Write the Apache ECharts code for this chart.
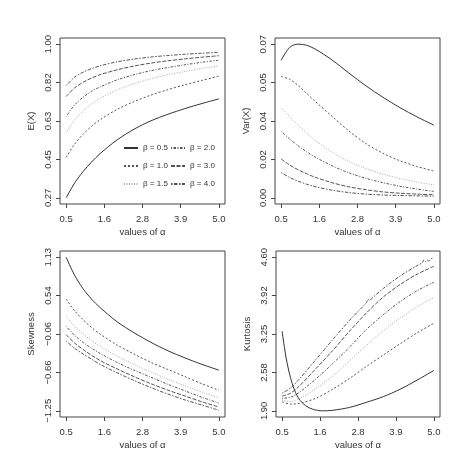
<!DOCTYPE html>
<html>
<head>
<meta charset="utf-8">
<title>moments</title>
<style>
  html, body { margin: 0; padding: 0; background: #fff; }
  #main { width: 452px; height: 451px; }
</style>
</head>
<body>
<div id="main"></div>
<script src="https://cdn.jsdelivr.net/npm/echarts@6/dist/echarts.min.js"></script>
<script>
// tick positions / labels (R style: 5 equally spaced ticks)
var xTicks = [0.5, 1.625, 2.75, 3.875, 5.0];
var xLabels = ['0.5', '1.6', '2.8', '3.9', '5.0'];
var eTicks = [0.27, 0.4525, 0.635, 0.8175, 1.00];
var eLabels = ['0.27', '0.45', '0.63', '0.82', '1.00'];
var vTicks = [0, 0.0175, 0.035, 0.0525, 0.07];
var vLabels = ['0.00', '0.02', '0.04', '0.05', '0.07'];
var sTicks = [-1.25, -0.655, -0.06, 0.535, 1.13];
var sLabels = ['\u22121.25', '\u22120.66', '\u22120.06', '0.54', '1.13'];
var kTicks = [1.90, 2.575, 3.25, 3.925, 4.60];
var kLabels = ['1.90', '2.58', '3.25', '3.92', '4.60'];

var betas = ['β = 0.5', 'β = 1.0', 'β = 1.5', 'β = 2.0', 'β = 3.0', 'β = 4.0'];

// values of alpha
var alphaG = [0.5, 0.75, 1.0, 1.25, 1.5, 2.0, 2.5, 3.0, 3.5, 4.0, 4.5, 5.0];

// E(X)
var meanB05 = [0.270, 0.340, 0.395, 0.440, 0.480, 0.545, 0.596, 0.636, 0.667, 0.694, 0.718, 0.740];
var meanB10 = [0.462, 0.525, 0.572, 0.610, 0.641, 0.690, 0.727, 0.758, 0.784, 0.807, 0.828, 0.848];
var meanB15 = [0.579, 0.640, 0.683, 0.716, 0.742, 0.782, 0.812, 0.836, 0.855, 0.870, 0.884, 0.897];
var meanB20 = [0.656, 0.711, 0.748, 0.776, 0.797, 0.830, 0.855, 0.874, 0.889, 0.902, 0.914, 0.924];
var meanB30 = [0.751, 0.792, 0.819, 0.839, 0.855, 0.878, 0.896, 0.910, 0.921, 0.930, 0.938, 0.945];
var meanB40 = [0.803, 0.843, 0.867, 0.884, 0.897, 0.916, 0.929, 0.939, 0.946, 0.952, 0.957, 0.961];

// Var(X)
var varB05 = [0.0626, 0.0685, 0.0700, 0.0695, 0.0678, 0.0628, 0.0568, 0.0510, 0.0458, 0.0411, 0.0369, 0.0331];
var varB10 = [0.0553, 0.0540, 0.0512, 0.0476, 0.0440, 0.0371, 0.0304, 0.0247, 0.0203, 0.0169, 0.0143, 0.0122];
var varB15 = [0.0410, 0.0370, 0.0330, 0.0295, 0.0262, 0.0208, 0.0165, 0.0133, 0.0108, 0.0088, 0.0072, 0.0059];
var varB20 = [0.0304, 0.0268, 0.0237, 0.0210, 0.0186, 0.0146, 0.0114, 0.0089, 0.0069, 0.0053, 0.0040, 0.0029];
var varB30 = [0.0177, 0.0150, 0.0128, 0.0110, 0.0094, 0.0069, 0.0050, 0.0037, 0.0027, 0.0021, 0.0017, 0.0014];
var varB40 = [0.0115, 0.0093, 0.0076, 0.0062, 0.0051, 0.0035, 0.0024, 0.0017, 0.0013, 0.0011, 0.0009, 0.0008];

// skewness
var skewB05 = [1.13, 0.85, 0.64, 0.48, 0.35, 0.13, -0.04, -0.19, -0.32, -0.43, -0.53, -0.62];
var skewB10 = [0.48, 0.30, 0.16, 0.04, -0.06, -0.23, -0.37, -0.50, -0.61, -0.72, -0.83, -0.93];
var skewB15 = [0.22, 0.06, -0.06, -0.16, -0.25, -0.40, -0.53, -0.65, -0.76, -0.86, -0.96, -1.05];
var skewB20 = [0.06, -0.08, -0.19, -0.28, -0.36, -0.50, -0.62, -0.73, -0.84, -0.94, -1.04, -1.13];
var skewB30 = [-0.07, -0.20, -0.30, -0.39, -0.47, -0.60, -0.72, -0.83, -0.93, -1.02, -1.11, -1.19];
var skewB40 = [-0.17, -0.28, -0.37, -0.45, -0.53, -0.66, -0.78, -0.89, -0.99, -1.08, -1.16, -1.24];

// kurtosis
var alphaK05 = [0.5, 0.6, 0.7, 0.8, 0.9, 1.0, 1.2, 1.4, 1.7, 2.0, 2.5, 3.0, 3.5, 4.0, 4.5, 5.0];
var kurtB05 = [3.30, 2.90, 2.60, 2.38, 2.22, 2.11, 1.99, 1.93, 1.90, 1.91, 1.96, 2.05, 2.15, 2.28, 2.44, 2.61];
var alphaK = [0.5, 0.75, 1.0, 1.5, 2.0, 2.5, 3.0, 3.5, 4.0, 4.5, 5.0];
var kurtB10 = [2.06, 2.02, 2.03, 2.12, 2.28, 2.47, 2.68, 2.88, 3.08, 3.27, 3.44];
var kurtB15 = [2.09, 2.06, 2.11, 2.29, 2.51, 2.78, 3.05, 3.31, 3.53, 3.73, 3.89];
var kurtB20 = [2.12, 2.14, 2.22, 2.46, 2.73, 3.02, 3.33, 3.59, 3.82, 4.01, 4.16];
var kurtB30 = [2.16, 2.21, 2.33, 2.64, 2.96, 3.30, 3.62, 3.90, 4.12, 4.30, 4.44];
var alphaK40 = [0.5, 0.75, 1.0, 1.5, 2.0, 2.5, 3.0, 3.05, 3.1, 3.15, 3.5, 4.0, 4.5, 4.65, 4.7, 4.75, 4.8, 4.85, 4.9, 5.0];
var kurtB40 = [2.21, 2.30, 2.45, 2.80, 3.15, 3.49, 3.80, 3.86, 3.84, 3.87, 4.05, 4.27, 4.45, 4.50, 4.55, 4.52, 4.55, 4.53, 4.56, 4.60];

var styles = [
  { color: '#333', type: 'solid' },
  { color: '#555', type: [2, 2] },
  { color: '#aaa', type: [1, 1.5] },
  { color: '#555', type: [1, 1.5, 2.5, 1.5] },
  { color: '#555', type: [4, 1.5] },
  { color: '#555', type: [1.5, 1.5, 3.5, 1.5] }
];

var font = 'Liberation Sans, Arial, sans-serif';
var grids = [
  { left: 60, top: 38, width: 165, height: 166 },
  { left: 275, top: 38, width: 165, height: 166 },
  { left: 60, top: 251, width: 165, height: 167 },
  { left: 276, top: 251, width: 164, height: 167 }
];

function pick(ticks, labels) {
  return function (v) {
    var best = 0;
    for (var j = 1; j < ticks.length; j++) {
      if (Math.abs(ticks[j] - v) < Math.abs(ticks[best] - v)) best = j;
    }
    return labels[best];
  };
}

function xAx(gi) {
  return {
    type: 'value', gridIndex: gi, min: 0.32, max: 5.18,
    name: 'values of α', nameLocation: 'middle', nameGap: 23,
    nameTextStyle: { fontFamily: font, fontSize: 9.5, color: '#333' },
    axisLine: { show: false, onZero: false }, splitLine: { show: false },
    axisTick: { show: true, inside: false, length: 4, customValues: xTicks, lineStyle: { color: '#444' } },
    axisLabel: { customValues: xTicks, margin: 10, fontFamily: font, fontSize: 9.5, color: '#333',
      formatter: pick(xTicks, xLabels) }
  };
}
function yAx(gi, name, lo, hi, ticks, labels) {
  return {
    type: 'value', gridIndex: gi, min: lo, max: hi,
    name: name, nameLocation: 'middle', nameGap: 24,
    nameTextStyle: { fontFamily: font, fontSize: 9.5, color: '#333' },
    axisLine: { show: false, onZero: false }, splitLine: { show: false },
    axisTick: { show: true, inside: false, length: 4, customValues: ticks, lineStyle: { color: '#444' } },
    axisLabel: { customValues: ticks, rotate: 90, margin: 7, fontFamily: font, fontSize: 9.5, color: '#333',
      formatter: pick(ticks, labels) }
  };
}

function mk(k, gi, xs, ys) {
  return {
    name: betas[k], type: 'line', xAxisIndex: gi, yAxisIndex: gi,
    data: xs.map(function (x, i) { return [x, ys[i]]; }),
    smooth: 0.3, symbol: 'none', silent: true,
    lineStyle: { width: 1, color: styles[k].color, type: styles[k].type },
    itemStyle: { color: styles[k].color }
  };
}

var series = [
  mk(0, 0, alphaG, meanB05), mk(1, 0, alphaG, meanB10), mk(2, 0, alphaG, meanB15),
  mk(3, 0, alphaG, meanB20), mk(4, 0, alphaG, meanB30), mk(5, 0, alphaG, meanB40),
  mk(0, 1, alphaG, varB05), mk(1, 1, alphaG, varB10), mk(2, 1, alphaG, varB15),
  mk(3, 1, alphaG, varB20), mk(4, 1, alphaG, varB30), mk(5, 1, alphaG, varB40),
  mk(0, 2, alphaG, skewB05), mk(1, 2, alphaG, skewB10), mk(2, 2, alphaG, skewB15),
  mk(3, 2, alphaG, skewB20), mk(4, 2, alphaG, skewB30), mk(5, 2, alphaG, skewB40),
  mk(0, 3, alphaK05, kurtB05), mk(1, 3, alphaK, kurtB10), mk(2, 3, alphaK, kurtB15),
  mk(3, 3, alphaK, kurtB20), mk(4, 3, alphaK, kurtB30), mk(5, 3, alphaK40, kurtB40)
];

var legendBase = {
  orient: 'vertical', itemWidth: 14, itemHeight: 8, itemGap: 10, padding: 0,
  selectedMode: false,
  itemStyle: { color: 'rgba(0,0,0,0)', borderWidth: 0 },
  textStyle: { fontFamily: font, fontSize: 8, color: '#333' }
};

var chart = echarts.init(document.getElementById('main'));
chart.setOption({
  animation: false,
  backgroundColor: '#fff',
  grid: grids.map(function (g) {
    return Object.assign({ show: true, borderColor: '#444', borderWidth: 1, backgroundColor: 'transparent' }, g);
  }),
  legend: [
    Object.assign({ left: 123, top: 144, data: betas.slice(0, 3) }, legendBase),
    Object.assign({ left: 170, top: 144, data: betas.slice(3, 6) }, legendBase)
  ],
  xAxis: [xAx(0), xAx(1), xAx(2), xAx(3)],
  yAxis: [
    yAx(0, 'E(X)', 0.2408, 1.0292, eTicks, eLabels),
    yAx(1, 'Var(X)', -0.0028, 0.0728, vTicks, vLabels),
    yAx(2, 'Skewness', -1.3452, 1.2252, sTicks, sLabels),
    yAx(3, 'Kurtosis', 1.792, 4.708, kTicks, kLabels)
  ],
  series: series
});
</script>
</body>
</html>
